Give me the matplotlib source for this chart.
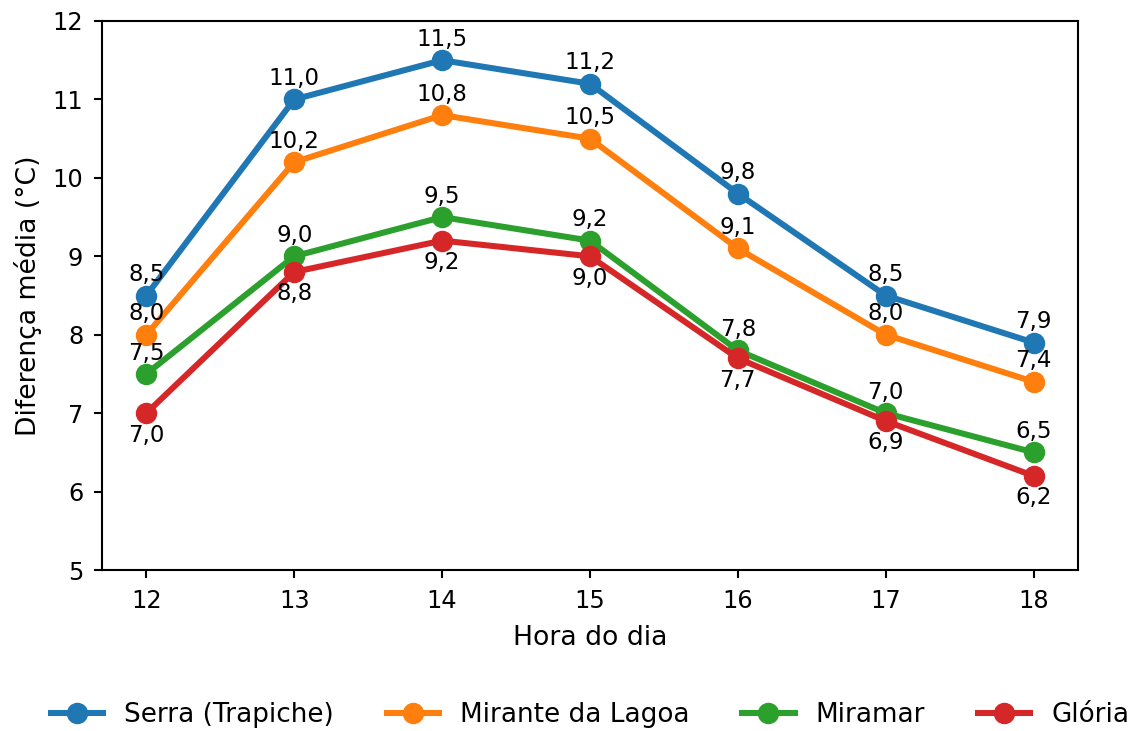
import matplotlib.pyplot as plt

horas = [12, 13, 14, 15, 16, 17, 18]
serra = [8.5, 11.0, 11.5, 11.2, 9.8, 8.5, 7.9]
mirante = [8.0, 10.2, 10.8, 10.5, 9.1, 8.0, 7.4]
miramar = [7.5, 9.0, 9.5, 9.2, 7.8, 7.0, 6.5]
gloria = [7.0, 8.8, 9.2, 9.0, 7.7, 6.9, 6.2]

series = [
    ('Serra (Trapiche)', serra, 'tab:blue', 'acima'),
    ('Mirante da Lagoa', mirante, 'tab:orange', 'acima'),
    ('Miramar', miramar, 'tab:green', 'acima'),
    ('Glória', gloria, 'tab:red', 'abaixo'),
]

fig = plt.figure(figsize=(1147 / 150, 731 / 150), dpi=150)
ax = fig.add_axes([0.0889, 0.2202, 0.8509, 0.7511])

for nome, valores, cor, pos in series:
    ax.plot(horas, valores, '-o', color=cor, lw=2.9, ms=9.3, label=nome)
    for h, v in zip(horas, valores):
        txt = f'{v:.1f}'.replace('.', ',')
        if pos == 'acima':
            ax.annotate(txt, (h, v), xytext=(0, 4.5), textcoords='offset points',
                        ha='center', va='bottom', fontsize=11)
        else:
            ax.annotate(txt, (h, v), xytext=(0, -5), textcoords='offset points',
                        ha='center', va='top', fontsize=11)

ax.set_ylim(5, 12)
ax.set_xticks(horas)
ax.tick_params(labelsize=11.5, length=4, pad=5, width=1)
for s in ax.spines.values():
    s.set_linewidth(1)
ax.set_xlabel('Hora do dia', fontsize=12.8, labelpad=6)
ax.set_ylabel('Diferença média (°C)', fontsize=12.8, labelpad=5)

fig.legend(loc='center', bbox_to_anchor=(0.5144, 0.0219), ncol=4,
           frameon=False, fontsize=12.6)

fig.savefig('out.png', dpi=150)
